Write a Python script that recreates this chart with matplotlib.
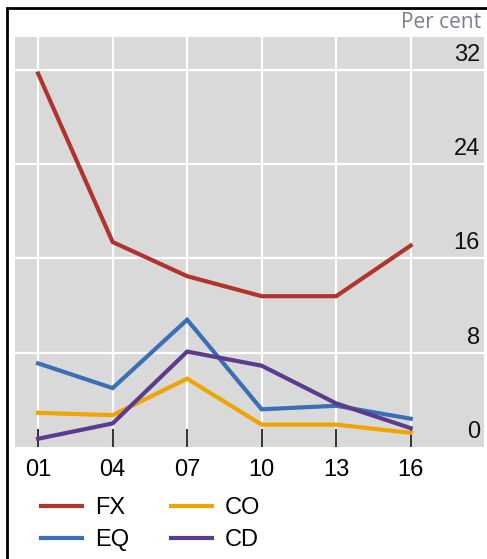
import matplotlib
matplotlib.use("Agg")
import matplotlib.pyplot as plt
from matplotlib.patches import Rectangle
from matplotlib.transforms import offset_copy

years = [1, 4, 7, 10, 13, 16]
year_labels = ["01", "04", "07", "10", "13", "16"]
fx = [31.7, 17.4, 14.5, 12.8, 12.8, 17.1]
eq = [7.1, 5.0, 10.8, 3.2, 3.5, 2.4]
co = [2.9, 2.7, 5.8, 1.9, 1.9, 1.2]
cd = [0.7, 2.0, 8.1, 6.9, 3.7, 1.6]
y_ticks = [0, 8, 16, 24, 32]

W, H = 487, 559
fig = plt.figure(figsize=(W / 100, H / 100), dpi=100)
plt.rcParams['font.family'] = ['Liberation Sans', 'DejaVu Sans']

# outer frame
fig.patches.append(Rectangle((7 / W, -0.1), 1.2, (H - 8) / H + 0.1, transform=fig.transFigure,
                             fill=False, edgecolor='black', linewidth=2, zorder=0))

ax = fig.add_axes([15 / W, (H - 447) / H, (484 - 15) / W, (447 - 37) / H])
ax.set_facecolor('#d9d9d9')
ax.set_xlim(0.07, 18.95)
ax.set_ylim(0, 34.8)

for y in y_ticks[1:]:
    ax.axhline(y, color='white', lw=1.6, zorder=1)
for x in years:
    ax.axvline(x, color='white', lw=1.6, zorder=1)

series = [("FX", fx, '#b1332e'), ("EQ", eq, '#3a6fb7'), ("CO", co, '#f0a400'), ("CD", cd, '#5c3a8e')]
lines = {}
for name, vals, c in series:
    ln, = ax.plot(years, vals, color=c, lw=3, solid_joinstyle='miter', zorder=3, label=name)
    lines[name] = ln

for s in ax.spines.values():
    s.set_visible(False)

ax.set_yticks([])
ax.set_xticks(years)
ax.set_xticklabels(year_labels, fontsize=17)
ax.tick_params(axis='x', direction='in', length=13, width=1.3, color='#222222', pad=9)

tr = offset_copy(ax.transData, fig=fig, x=-4, y=4, units='dots')
for y in y_ticks:
    ax.text(18.95, y, str(y), transform=tr, ha='right', va='bottom', fontsize=17, color='#111111')

fig.text(481 / W, 1 - 23 / H, "Per cent", ha='right', va='center', fontsize=15,
         color='#7b7f8c', family=['Open Sans', 'DejaVu Sans'])

leg = fig.legend([lines['FX'], lines['EQ'], lines['CO'], lines['CD']], ['FX', 'EQ', 'CO', 'CD'],
                 ncol=2, loc='upper left', bbox_to_anchor=(41 / W, 1 - 497 / H), frameon=False,
                 fontsize=17, handlelength=1.74, handletextpad=0.55, columnspacing=1.75,
                 labelspacing=0.42, borderpad=0, borderaxespad=0)

fig.savefig("out.png", dpi=100)
